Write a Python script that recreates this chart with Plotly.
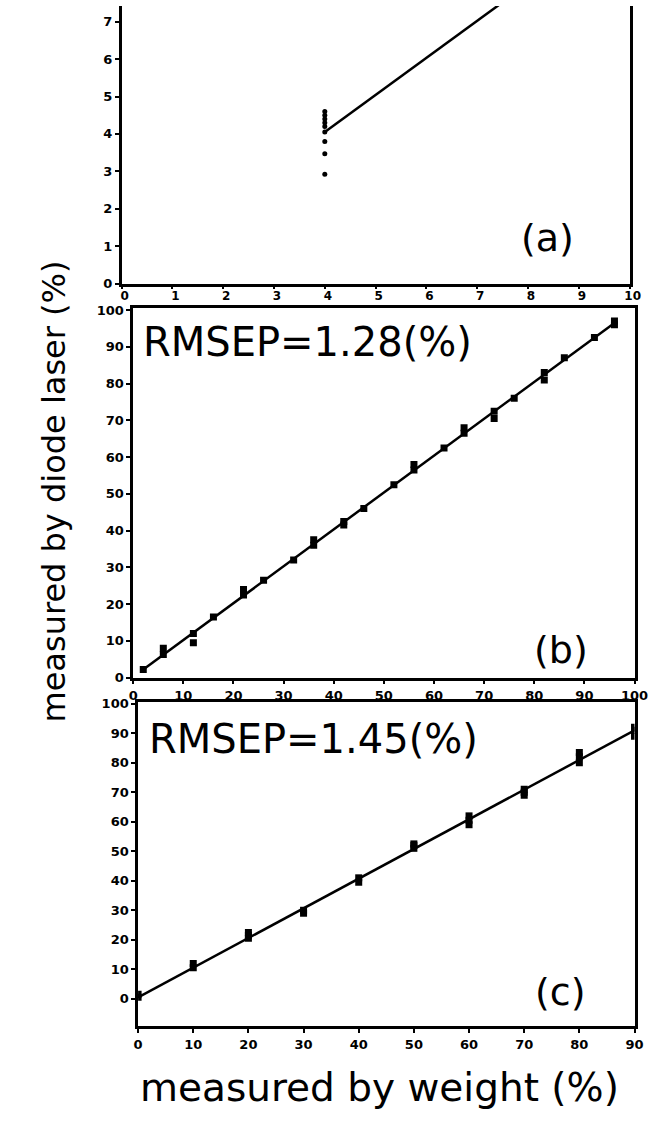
import plotly.graph_objects as go

# ---------------- data ----------------
# panel (a)
a_x = [4, 4, 4, 4, 4, 4, 4, 4, 4]
a_y = [4.6, 4.5, 4.4, 4.3, 4.2, 4.05, 3.8, 3.47, 2.92]
a_line_x = [4, 10]
a_line_y = [4.05, 10.0]

# panel (b)
b_x = [2, 6, 6, 12, 12, 16, 22, 22, 26, 32, 36, 36, 42, 42, 46, 52, 56, 56,
       62, 66, 66, 72, 72, 76, 82, 82, 86, 92, 96, 96]
b_y = [2.2, 8.0, 6.3, 12.0, 9.5, 16.5, 24.0, 22.5, 26.5, 32.0, 37.5, 36.0, 42.5, 41.5,
       46.0, 52.5, 58.0, 56.5, 62.5, 68.0, 66.5, 72.5, 70.5, 76.0, 83.0, 81.0, 87.0,
       92.5, 97.0, 96.0]
b_line_x = [2, 96]
b_line_y = [2.2, 96.5]

# panel (c)
c_x = [0, 0, 10, 10, 20, 20, 20, 30, 30, 40, 40, 50, 50, 50, 60, 60, 60,
       70, 70, 70, 80, 80, 80, 90, 90, 90]
c_y = [0.5, 1.5, 10.5, 12.0, 20.5, 21.5, 22.5, 29.0, 30.0, 39.5, 41.0, 51.0, 52.0, 52.5,
       59.0, 60.5, 62.0, 69.0, 70.0, 71.0, 80.0, 82.0, 83.5, 89.0, 91.0, 92.0]
c_line_x = [0, 90]
c_line_y = [0.5, 91.0]

a_xticks = list(range(0, 11))
a_yticks = list(range(0, 8))
b_ticks = list(range(0, 101, 10))
c_xticks = list(range(0, 91, 10))
c_yticks = list(range(0, 101, 10))

labels = ["(a)", "(b)", "(c)"]
rmsep_b = "RMSEP=1.28(%)"
rmsep_c = "RMSEP=1.45(%)"
x_title = "measured by weight (%)"
y_title = "measured by diode laser (%)"

# ---------------- figure ----------------
W, H = 666, 1132
def fx(px):
    return px / W
def fy(py):
    return 1 - py / H

fig = go.Figure()
mk = dict(color="black", size=7, symbol="square")
ln = dict(color="black", width=2.5)

fig.add_trace(go.Scatter(x=a_line_x, y=a_line_y, mode="lines", line=ln, xaxis="x", yaxis="y"))
fig.add_trace(go.Scatter(x=a_x, y=a_y, mode="markers", marker=dict(color="black", size=5), xaxis="x", yaxis="y"))
fig.add_trace(go.Scatter(x=b_line_x, y=b_line_y, mode="lines", line=ln, xaxis="x2", yaxis="y2"))
fig.add_trace(go.Scatter(x=b_x, y=b_y, mode="markers", marker=mk, xaxis="x2", yaxis="y2"))
fig.add_trace(go.Scatter(x=c_line_x, y=c_line_y, mode="lines", line=ln, xaxis="x3", yaxis="y3"))
fig.add_trace(go.Scatter(x=c_x, y=c_y, mode="markers", marker=mk, xaxis="x3", yaxis="y3"))

tickfont = dict(family="DejaVu Sans", size=13, color="black", weight="bold")
common = dict(showline=True, linecolor="black", linewidth=2.5, ticks="outside",
              ticklen=4, tickwidth=2, tickcolor="black", showgrid=False,
              zeroline=False, tickfont=tickfont, fixedrange=True)

fig.update_layout(
    width=W, height=H, margin=dict(l=0, r=0, t=0, b=0),
    paper_bgcolor="white", plot_bgcolor="white", showlegend=False,
    xaxis=dict(domain=[fx(120), fx(643)], range=[0, 10], tickvals=a_xticks,
               anchor="y", mirror=False, ticklabelstandoff=-4, ticklabelshift=3,
               **{**common, "tickfont": dict(tickfont, size=12), "ticklen": 3}),
    yaxis=dict(domain=[fy(281), 1.0], range=[0, 7.42], tickvals=a_yticks,
               anchor="x", mirror=True, **common),
    xaxis2=dict(domain=[fx(132), fx(648)], range=[0, 100], tickvals=b_ticks,
                anchor="y2", mirror=True, **common),
    yaxis2=dict(domain=[fy(680), fy(306)], range=[0, 100.5], tickvals=b_ticks,
                anchor="x2", mirror=True, **common),
    xaxis3=dict(domain=[fx(137), fx(648)], range=[0, 90], tickvals=c_xticks,
                anchor="y3", mirror=True, **common),
    yaxis3=dict(domain=[fy(1033), fy(705)], range=[-9.3, 100.5], tickvals=c_yticks,
                anchor="x3", mirror=True, **common),
)

big = dict(family="DejaVu Sans", color="black")
ann = [
    dict(x=fx(558), y=fy(235), text=labels[0], font=dict(size=38, **big)),
    dict(x=fx(572), y=fy(652), text=labels[1], font=dict(size=38, **big)),
    dict(x=fx(572), y=fy(998), text=labels[2], font=dict(size=38, **big)),
    dict(x=fx(140), y=fy(340), text=rmsep_b, font=dict(size=40, **big), xanchor="left"),
    dict(x=fx(146), y=fy(742), text=rmsep_c, font=dict(size=40, **big), xanchor="left"),
    dict(x=fx(385), y=fy(1095), text=x_title, font=dict(size=39, **big)),
    dict(x=fx(50), y=fy(492), text=y_title, font=dict(size=32, **big), textangle=-90),
]
for a in ann:
    a.setdefault("xanchor", "center")
    a.update(xref="paper", yref="paper", showarrow=False, yanchor="middle")
fig.update_layout(annotations=ann)

fig.write_html("out.html")
